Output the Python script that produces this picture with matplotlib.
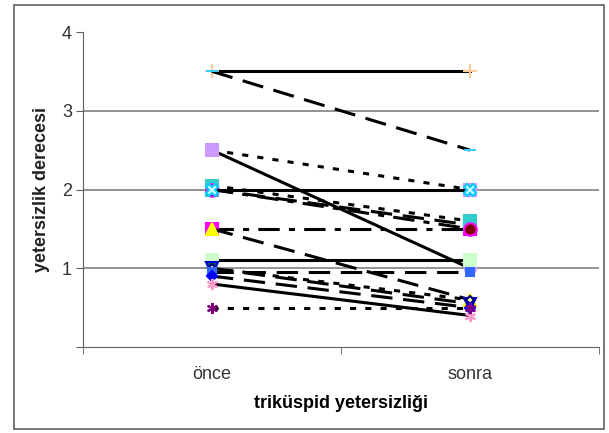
import numpy as np
import matplotlib
matplotlib.use("Agg")
from matplotlib import pyplot as plt
from matplotlib.patches import Rectangle

# categories and per-patient values (before / after)
kategoriler = ["önce", "sonra"]
once = [3.5, 3.5, 2.5, 2.5, 2.05, 1.5, 2.0, 2.0, 2.0, 1.5, 1.1, 1.0, 1.0, 0.95, 0.9, 0.8, 0.5]
sonra = [3.5, 2.5, 1.0, 2.0, 1.6, 1.5, 1.55, 1.5, 2.0, 0.6, 1.1, 0.55, 0.6, 0.95, 0.5, 0.4, 0.5]
y_ticks = [0, 1, 2, 3, 4]
y_etiket = ["", "1", "2", "3", "4"]

# line style / marker per series
solid = "-"
uzun = (0, (7, 3.5))
nokta = (0, (2, 3))
tire_nokta = (0, (7, 3, 2, 3))
stiller = [solid, uzun, solid, nokta, nokta, tire_nokta, uzun, tire_nokta, solid, uzun,
           solid, uzun, nokta, uzun, uzun, solid, nokta]
markerler = ["+", "_", "o", "s", "s", "s", "s", "o", "X", "^", "s", "v", "D", "s", "D", (6, 2, 0), (6, 2, 0)]
boyut = [10, 8, 8, 8, 8, 8, 8, 9, 8, 8, 8, 8, 4, 6, 5, 8, 8]
renkler = ["#FFCC99", "#33CCFF", "#CC99FF", "#CC99FF", "#33CCCC", "#FF00FF", "#33CCCC", "#800000",
           "#CCFFFF", "#FFFF00", "#CCFFCC", "#006666", "#FFFF99", "#3366FF", "#0000FF", "#FF99CC", "#800080"]
kenarlar = ["#FFCC99", "#33CCFF", "#CC99FF", "#CC99FF", "#33CCCC", "#FF00FF", "#33CCCC", "#FF00FF",
            "#00CCFF", "#FFFF00", "#CCFFCC", "#0000CC", "#000080", "#3366FF", "#0000FF", "#FF99CC", "#800080"]

fig = plt.figure(figsize=(6.09, 4.33), dpi=100)
ax = fig.add_axes([83/609, 1-347/433, 516/609, 315/433])

x = np.arange(len(kategoriler))
for i in range(len(once)):
    ax.plot(x, [once[i], sonra[i]], color="black", lw=2.2, linestyle=stiller[i],
            marker=markerler[i], markersize=boyut[i], markerfacecolor=renkler[i],
            markeredgecolor=kenarlar[i], markeredgewidth=1.5, zorder=3)

ax.set_xlim(-0.5, 1.5)
ax.set_ylim(0, 4)
ax.set_yticks(y_ticks)
ax.set_yticklabels(y_etiket, fontsize=13, family="Liberation Sans", color="#333333")
ax.set_xticks(x)
ax.set_xticklabels(kategoriler, fontsize=13, family="Liberation Sans", color="#333333")
ax.set_xticks([-0.5, 0.5, 1.5], minor=True)
ax.tick_params(axis="x", which="major", length=0, pad=14)
ax.tick_params(axis="x", which="minor", length=5, color="#606060", direction="out")
ax.tick_params(axis="y", length=5, color="#606060", pad=3)

for g in [1, 2, 3]:
    ax.axhline(g, color="#808080", lw=1.2, zorder=1)

ax.spines["top"].set_visible(False)
ax.spines["right"].set_visible(False)
ax.spines["left"].set_color("#606060")
ax.spines["bottom"].set_color("#606060")

fig.text(341/609, 1-403/433, "triküspid yetersizliği", ha="center", va="center",
         fontsize=13, fontweight="bold", family="Liberation Sans")
fig.text(42/609, 1-190/433, "yetersizlik derecesi", ha="center", va="center", rotation=90,
         fontsize=13, fontweight="bold", family="Liberation Sans", color="#222222")

fig.patches.append(Rectangle((14/609, 1-429/433), 590/609, 424/433, transform=fig.transFigure,
                             fill=False, edgecolor="#606060", lw=1.2))

fig.savefig("out.png", dpi=100)
